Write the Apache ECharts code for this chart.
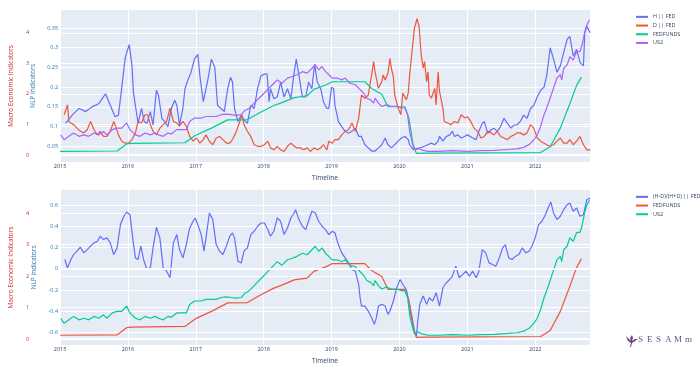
<!DOCTYPE html>
<html><head><meta charset="utf-8">
<script src="https://cdn.jsdelivr.net/npm/echarts@6/dist/echarts.min.js"></script>
<style>html,body{margin:0;padding:0;background:#fff}#c{width:700px;height:374px}</style>
</head><body><div id="c"></div>
<script>
// x values are decimal years
const hFed = [[2015.08,0.108],[2015.18,0.129],[2015.28,0.146],[2015.38,0.138],[2015.47,0.150],[2015.57,0.158],[2015.67,0.183],[2015.69,0.186],[2015.81,0.125],[2015.86,0.129],[2015.91,0.200],[2015.96,0.275],[2016.02,0.308],[2016.06,0.254],[2016.08,0.188],[2016.12,0.142],[2016.15,0.108],[2016.20,0.146],[2016.24,0.113],[2016.28,0.108],[2016.33,0.138],[2016.37,0.104],[2016.42,0.192],[2016.45,0.179],[2016.50,0.121],[2016.54,0.113],[2016.59,0.100],[2016.64,0.146],[2016.69,0.167],[2016.72,0.154],[2016.76,0.104],[2016.81,0.146],[2016.84,0.196],[2016.89,0.221],[2016.93,0.238],[2016.98,0.271],[2017.03,0.283],[2017.06,0.229],[2017.11,0.163],[2017.15,0.196],[2017.18,0.221],[2017.23,0.271],[2017.25,0.275],[2017.28,0.250],[2017.32,0.154],[2017.37,0.146],[2017.42,0.138],[2017.47,0.196],[2017.51,0.225],[2017.54,0.213],[2017.57,0.146],[2017.62,0.113],[2017.67,0.129],[2017.71,0.117],[2017.76,0.108],[2017.81,0.154],[2017.86,0.146],[2017.91,0.196],[2017.96,0.229],[2018.01,0.233],[2018.05,0.233],[2018.08,0.163],[2018.10,0.196],[2018.15,0.171],[2018.20,0.175],[2018.25,0.213],[2018.30,0.175],[2018.35,0.196],[2018.40,0.171],[2018.45,0.238],[2018.48,0.271],[2018.52,0.229],[2018.57,0.175],[2018.62,0.175],[2018.66,0.213],[2018.71,0.196],[2018.75,0.258],[2018.79,0.213],[2018.84,0.196],[2018.88,0.163],[2018.93,0.146],[2018.96,0.146],[2019.00,0.200],[2019.03,0.196],[2019.05,0.154],[2019.10,0.113],[2019.15,0.100],[2019.20,0.088],[2019.25,0.083],[2019.30,0.088],[2019.35,0.096],[2019.40,0.075],[2019.44,0.075],[2019.49,0.054],[2019.54,0.046],[2019.59,0.038],[2019.64,0.038],[2019.69,0.046],[2019.74,0.054],[2019.79,0.071],[2019.83,0.054],[2019.88,0.046],[2019.93,0.054],[2019.98,0.063],[2020.03,0.071],[2020.08,0.075],[2020.13,0.067],[2020.15,0.054],[2020.20,0.042],[2020.25,0.042],[2020.30,0.046],[2020.37,0.050],[2020.47,0.058],[2020.52,0.054],[2020.57,0.063],[2020.59,0.075],[2020.64,0.063],[2020.69,0.075],[2020.74,0.079],[2020.78,0.088],[2020.81,0.075],[2020.86,0.079],[2020.91,0.071],[2020.96,0.075],[2021.00,0.079],[2021.08,0.071],[2021.13,0.067],[2021.17,0.088],[2021.22,0.108],[2021.25,0.113],[2021.30,0.083],[2021.35,0.092],[2021.39,0.096],[2021.44,0.088],[2021.49,0.100],[2021.54,0.121],[2021.59,0.108],[2021.64,0.096],[2021.69,0.104],[2021.73,0.104],[2021.78,0.113],[2021.83,0.129],[2021.88,0.121],[2021.93,0.146],[2021.98,0.154],[2022.03,0.175],[2022.08,0.192],[2022.13,0.200],[2022.17,0.229],[2022.22,0.300],[2022.27,0.271],[2022.32,0.238],[2022.37,0.254],[2022.42,0.288],[2022.47,0.321],[2022.51,0.329],[2022.56,0.279],[2022.61,0.296],[2022.66,0.263],[2022.71,0.254],[2022.73,0.338],[2022.76,0.354],[2022.81,0.338]];

const dFed = [[2015.06,0.130],[2015.11,0.155],[2015.13,0.113],[2015.16,0.109],[2015.20,0.105],[2015.25,0.096],[2015.30,0.088],[2015.35,0.084],[2015.40,0.092],[2015.45,0.113],[2015.50,0.092],[2015.55,0.079],[2015.59,0.088],[2015.64,0.075],[2015.69,0.075],[2015.74,0.088],[2015.79,0.113],[2015.81,0.105],[2015.86,0.079],[2015.91,0.063],[2015.96,0.058],[2016.01,0.058],[2016.06,0.067],[2016.11,0.084],[2016.15,0.113],[2016.20,0.109],[2016.25,0.130],[2016.29,0.130],[2016.33,0.105],[2016.37,0.088],[2016.42,0.079],[2016.47,0.096],[2016.52,0.105],[2016.57,0.113],[2016.62,0.147],[2016.67,0.113],[2016.72,0.109],[2016.76,0.101],[2016.81,0.113],[2016.86,0.101],[2016.91,0.075],[2016.96,0.063],[2017.01,0.071],[2017.06,0.058],[2017.11,0.067],[2017.15,0.079],[2017.20,0.063],[2017.25,0.054],[2017.30,0.071],[2017.35,0.075],[2017.40,0.067],[2017.45,0.058],[2017.50,0.058],[2017.54,0.067],[2017.59,0.084],[2017.64,0.109],[2017.68,0.130],[2017.71,0.105],[2017.76,0.088],[2017.81,0.075],[2017.86,0.054],[2017.91,0.050],[2017.96,0.050],[2018.01,0.054],[2018.06,0.063],[2018.10,0.046],[2018.15,0.041],[2018.20,0.050],[2018.25,0.041],[2018.30,0.037],[2018.35,0.050],[2018.40,0.058],[2018.45,0.050],[2018.49,0.046],[2018.54,0.046],[2018.59,0.041],[2018.64,0.046],[2018.69,0.037],[2018.74,0.046],[2018.79,0.041],[2018.84,0.046],[2018.88,0.054],[2018.93,0.041],[2018.96,0.063],[2019.01,0.058],[2019.05,0.067],[2019.10,0.067],[2019.15,0.079],[2019.20,0.088],[2019.25,0.092],[2019.30,0.109],[2019.35,0.088],[2019.40,0.122],[2019.44,0.180],[2019.49,0.172],[2019.54,0.180],[2019.59,0.231],[2019.62,0.265],[2019.64,0.239],[2019.69,0.197],[2019.74,0.214],[2019.76,0.231],[2019.79,0.218],[2019.83,0.235],[2019.86,0.273],[2019.88,0.248],[2019.91,0.227],[2019.93,0.180],[2019.98,0.147],[2020.02,0.130],[2020.05,0.185],[2020.10,0.168],[2020.13,0.185],[2020.15,0.231],[2020.18,0.282],[2020.22,0.349],[2020.26,0.374],[2020.29,0.353],[2020.32,0.282],[2020.35,0.248],[2020.37,0.265],[2020.40,0.214],[2020.42,0.239],[2020.44,0.180],[2020.47,0.172],[2020.52,0.197],[2020.54,0.155],[2020.57,0.239],[2020.59,0.189],[2020.64,0.147],[2020.66,0.113],[2020.71,0.109],[2020.76,0.105],[2020.81,0.113],[2020.86,0.109],[2020.91,0.130],[2020.96,0.122],[2021.00,0.125],[2021.05,0.113],[2021.10,0.096],[2021.15,0.088],[2021.20,0.071],[2021.25,0.075],[2021.30,0.088],[2021.35,0.084],[2021.39,0.079],[2021.44,0.088],[2021.49,0.075],[2021.54,0.071],[2021.59,0.067],[2021.64,0.075],[2021.69,0.079],[2021.73,0.084],[2021.78,0.084],[2021.83,0.079],[2021.88,0.084],[2021.93,0.105],[2021.98,0.096],[2022.03,0.071],[2022.08,0.063],[2022.13,0.058],[2022.17,0.054],[2022.22,0.050],[2022.27,0.054],[2022.32,0.063],[2022.37,0.071],[2022.42,0.058],[2022.47,0.058],[2022.51,0.067],[2022.56,0.054],[2022.61,0.063],[2022.66,0.075],[2022.71,0.054],[2022.76,0.041],[2022.81,0.041]];

const fedFunds = [[2015.00,0.12],[2015.84,0.13],[2015.98,0.36],[2016.05,0.38],[2016.84,0.40],[2016.99,0.64],[2017.23,0.88],[2017.47,1.15],[2017.76,1.16],[2017.96,1.41],[2018.15,1.62],[2018.25,1.70],[2018.45,1.88],[2018.64,1.94],[2018.74,2.15],[2018.93,2.31],[2019.01,2.40],[2019.49,2.40],[2019.59,2.18],[2019.74,1.99],[2019.83,1.58],[2020.08,1.58],[2020.14,1.20],[2020.20,0.35],[2020.25,0.05],[2020.40,0.06],[2022.08,0.08],[2022.22,0.27],[2022.37,0.88],[2022.51,1.68],[2022.61,2.28],[2022.68,2.55]];

const us2 = [[2015.01,0.66],[2015.06,0.50],[2015.13,0.61],[2015.20,0.72],[2015.28,0.61],[2015.35,0.66],[2015.42,0.61],[2015.50,0.72],[2015.57,0.66],[2015.64,0.77],[2015.69,0.66],[2015.77,0.83],[2015.84,0.88],[2015.91,0.88],[2015.98,1.05],[2016.03,0.83],[2016.11,0.66],[2016.18,0.61],[2016.25,0.72],[2016.33,0.66],[2016.40,0.72],[2016.45,0.66],[2016.52,0.61],[2016.59,0.72],[2016.64,0.69],[2016.72,0.83],[2016.79,0.83],[2016.86,0.83],[2016.91,1.10],[2016.98,1.21],[2017.08,1.21],[2017.15,1.26],[2017.23,1.26],[2017.30,1.26],[2017.37,1.32],[2017.45,1.34],[2017.52,1.32],[2017.59,1.30],[2017.67,1.32],[2017.71,1.43],[2017.79,1.54],[2017.86,1.70],[2017.93,1.86],[2018.01,2.03],[2018.08,2.19],[2018.15,2.35],[2018.20,2.46],[2018.27,2.35],[2018.35,2.52],[2018.42,2.57],[2018.49,2.63],[2018.57,2.73],[2018.64,2.68],[2018.71,2.84],[2018.76,2.95],[2018.81,2.79],[2018.86,2.90],[2018.91,2.73],[2018.96,2.63],[2019.01,2.52],[2019.08,2.52],[2019.15,2.46],[2019.20,2.52],[2019.27,2.35],[2019.35,2.30],[2019.42,2.14],[2019.47,2.03],[2019.52,1.86],[2019.57,1.81],[2019.62,1.70],[2019.64,1.86],[2019.69,1.70],[2019.74,1.59],[2019.81,1.65],[2019.88,1.59],[2019.96,1.59],[2020.03,1.54],[2020.08,1.54],[2020.12,1.32],[2020.15,0.77],[2020.19,0.39],[2020.22,0.17],[2020.27,0.23],[2020.32,0.17],[2020.42,0.12],[2020.57,0.12],[2020.78,0.14],[2021.00,0.12],[2021.20,0.14],[2021.40,0.15],[2021.59,0.18],[2021.73,0.20],[2021.83,0.25],[2021.91,0.34],[2021.98,0.50],[2022.03,0.66],[2022.08,0.94],[2022.13,1.32],[2022.17,1.54],[2022.22,1.86],[2022.27,2.19],[2022.32,2.52],[2022.37,2.63],[2022.39,2.46],[2022.42,2.84],[2022.47,2.95],[2022.51,3.22],[2022.56,3.11],[2022.61,3.39],[2022.66,3.39],[2022.69,3.61],[2022.71,3.82],[2022.73,4.04],[2022.76,4.26],[2022.80,4.42]];

const hdRatio = [[2015.07,0.088],[2015.11,0.009],[2015.16,0.088],[2015.20,0.134],[2015.25,0.166],[2015.30,0.203],[2015.35,0.150],[2015.40,0.181],[2015.45,0.213],[2015.50,0.244],[2015.55,0.259],[2015.59,0.306],[2015.64,0.275],[2015.69,0.291],[2015.74,0.244],[2015.79,0.134],[2015.81,0.119],[2015.84,0.197],[2015.89,0.416],[2015.94,0.494],[2015.98,0.534],[2016.03,0.509],[2016.07,0.291],[2016.11,0.103],[2016.15,0.088],[2016.19,0.213],[2016.23,0.088],[2016.28,-0.006],[2016.33,0.009],[2016.37,0.197],[2016.42,0.390],[2016.47,0.291],[2016.52,0.009],[2016.57,-0.022],[2016.62,-0.084],[2016.67,0.244],[2016.72,0.322],[2016.76,0.181],[2016.81,0.103],[2016.86,0.228],[2016.91,0.384],[2016.96,0.447],[2016.99,0.478],[2017.03,0.416],[2017.08,0.322],[2017.12,0.166],[2017.15,0.291],[2017.20,0.525],[2017.25,0.463],[2017.30,0.228],[2017.35,0.166],[2017.40,0.134],[2017.45,0.213],[2017.50,0.306],[2017.54,0.338],[2017.57,0.291],[2017.62,0.072],[2017.67,0.056],[2017.71,0.166],[2017.76,0.197],[2017.81,0.322],[2017.86,0.353],[2017.91,0.400],[2017.96,0.431],[2018.01,0.431],[2018.06,0.369],[2018.10,0.306],[2018.15,0.353],[2018.20,0.478],[2018.25,0.447],[2018.30,0.322],[2018.35,0.384],[2018.40,0.478],[2018.45,0.525],[2018.47,0.556],[2018.52,0.463],[2018.57,0.400],[2018.62,0.369],[2018.66,0.447],[2018.71,0.541],[2018.76,0.525],[2018.81,0.447],[2018.86,0.400],[2018.91,0.369],[2018.96,0.322],[2019.01,0.353],[2019.05,0.338],[2019.10,0.228],[2019.15,0.150],[2019.20,0.103],[2019.25,0.056],[2019.30,-0.006],[2019.35,-0.022],[2019.40,-0.147],[2019.42,-0.272],[2019.44,-0.350],[2019.49,-0.350],[2019.54,-0.397],[2019.59,-0.459],[2019.63,-0.522],[2019.66,-0.459],[2019.69,-0.350],[2019.74,-0.334],[2019.79,-0.350],[2019.83,-0.428],[2019.86,-0.397],[2019.91,-0.303],[2019.96,-0.178],[2020.01,-0.100],[2020.05,-0.147],[2020.10,-0.194],[2020.15,-0.334],[2020.20,-0.506],[2020.22,-0.584],[2020.25,-0.631],[2020.27,-0.490],[2020.30,-0.334],[2020.35,-0.256],[2020.40,-0.334],[2020.44,-0.272],[2020.49,-0.303],[2020.54,-0.225],[2020.59,-0.350],[2020.64,-0.178],[2020.69,-0.131],[2020.74,-0.100],[2020.78,-0.069],[2020.83,0.025],[2020.88,-0.084],[2020.93,-0.054],[2020.98,-0.022],[2021.03,-0.069],[2021.08,-0.022],[2021.13,-0.084],[2021.17,-0.022],[2021.22,0.181],[2021.27,0.150],[2021.32,0.056],[2021.37,0.041],[2021.42,0.025],[2021.47,0.103],[2021.52,0.197],[2021.56,0.228],[2021.61,0.103],[2021.66,0.088],[2021.71,0.119],[2021.76,0.134],[2021.81,0.197],[2021.86,0.150],[2021.91,0.166],[2021.95,0.213],[2022.00,0.291],[2022.05,0.416],[2022.10,0.447],[2022.15,0.509],[2022.20,0.588],[2022.23,0.628],[2022.27,0.525],[2022.32,0.463],[2022.37,0.494],[2022.42,0.556],[2022.47,0.603],[2022.51,0.619],[2022.56,0.541],[2022.61,0.572],[2022.66,0.494],[2022.71,0.509],[2022.76,0.650],[2022.81,0.666]];

const yearTicks = [2015,2016,2017,2018,2019,2020,2021,2022];
const topNlpTicks = [0.05,0.1,0.15,0.2,0.25,0.3,0.35];
const bottomNlpTicks = [-0.6,-0.4,-0.2,0,0.2,0.4,0.6];
const macroTicks = [0,1,2,3,4];
const topNames = ['H || FED','D || FED','FEDFUNDS','US2'];
const bottomNames = ['(H-D)/(H+D) || FED','FEDFUNDS ','US2 '];

const FONT = 'Open Sans';
const BLUE_T = '#1f77b4', RED_T = '#d62728', GREY_T = '#2a3f5f';
const C = {blue:'#636EFA', red:'#EF553B', green:'#00CC96', purple:'#AB63FA'};

function xAx(gi){
  return {type:'value', gridIndex:gi, min:2015, max:2022.807,
    axisLine:{show:false}, axisTick:{show:false, customValues:yearTicks},
    axisLabel:{customValues:yearTicks, fontSize:5.5, color:GREY_T, fontFamily:FONT, margin:1.5, formatter:v=>String(Math.round(v))},
    splitLine:{show:true, lineStyle:{color:'#fff', width:1}},
    name:'Timeline', nameLocation:'middle', nameGap:13,
    nameTextStyle:{fontSize:6.5, color:GREY_T, fontFamily:FONT}};
}
function yAx(gi, min, max, ticks, color, name, offset, gap){
  return {type:'value', gridIndex:gi, position:'left', offset:offset, min:min, max:max,
    axisLine:{show:false}, axisTick:{show:false, customValues:ticks},
    axisLabel:{customValues:ticks, fontSize:5.5, color:color, fontFamily:FONT, margin:2, formatter:v=>String(+v.toFixed(2))},
    splitLine:{show:true, lineStyle:{color:'#fff', width:1}},
    name:name, nameLocation:'middle', nameRotate:90, nameGap:gap,
    nameTextStyle:{fontSize:6.5, color:color, fontFamily:FONT}};
}
function line(name, data, xi, yi, color){
  return {type:'line', name:name, data:data, xAxisIndex:xi, yAxisIndex:yi, showSymbol:false,
    symbol:'none', lineStyle:{width:1.2, color:color}, itemStyle:{color:color}, z:3, animation:false};
}
function zero(xi, yi){
  return {type:'line', data:[], xAxisIndex:xi, yAxisIndex:yi, z:1, silent:true,
    markLine:{silent:true, symbol:'none', label:{show:false}, animation:false,
      lineStyle:{color:'#fff', width:2, type:'solid'}, data:[{yAxis:0}]}};
}
function legend(names, top){
  return {data:names, orient:'vertical', left:631, top:top, icon:'rect', itemWidth:12, itemHeight:2,
    itemGap:1, selectedMode:false, formatter:n=>n.trim(),
    textStyle:{fontSize:5.4, color:GREY_T, fontFamily:FONT, lineHeight:7.7}};
}

const chart = echarts.init(document.getElementById('c'), null, {renderer:'canvas'});
chart.setOption({
  animation:false,
  backgroundColor:'#fff',
  grid:[
    {left:56, top:10, width:534, height:152, show:true, backgroundColor:'#E5ECF6', borderWidth:0},
    {left:56, top:190, width:534, height:155, show:true, backgroundColor:'#E5ECF6', borderWidth:0}
  ],
  xAxis:[xAx(0), xAx(1)],
  yAxis:[
    yAx(0, 0.0102, 0.3956, topNlpTicks, BLUE_T, 'NLP Indicators', 0, 20),
    yAx(0, -0.23, 4.75, macroTicks, RED_T, 'Macro Economic Indicators', 29, 13),
    yAx(1, -0.716, 0.741, bottomNlpTicks, BLUE_T, 'NLP Indicators', 0, 20),
    yAx(1, -0.19, 4.74, macroTicks, RED_T, 'Macro Economic Indicators', 29, 13)
  ],
  legend:[legend(topNames, 8), legend(bottomNames, 188)],
  series:[
    zero(0,1), zero(1,2), zero(1,3),
    line(topNames[0], hFed, 0, 0, C.blue),
    line(topNames[1], dFed, 0, 0, C.red),
    line(topNames[2], fedFunds, 0, 1, C.green),
    line(topNames[3], us2, 0, 1, C.purple),
    line(bottomNames[0], hdRatio, 1, 2, C.blue),
    line(bottomNames[1], fedFunds, 1, 3, C.red),
    line(bottomNames[2], us2, 1, 3, C.green)
  ],
  graphic:[
    {type:'polygon', x:626, y:335, shape:{points:[[0,1],[3,4],[5,6],[4,3],[6,0],[7,3],[6,6],[9,4],[12,4],[9,6],[6,8],[5,12],[4,12],[5,8],[2,6]]},
      style:{fill:'#6a3f7c'}},
    {type:'group', x:638, y:335, children:
      [['S',0],['E',9],['S',18],['A',27],['M',36],['m',47]].map(([ch,dx])=>({
        type:'text', x:dx, y:0, style:{text:ch, font:'9px "Liberation Serif", serif', fill:'#6e5080'}}))}
  ]
});
</script></body></html>
